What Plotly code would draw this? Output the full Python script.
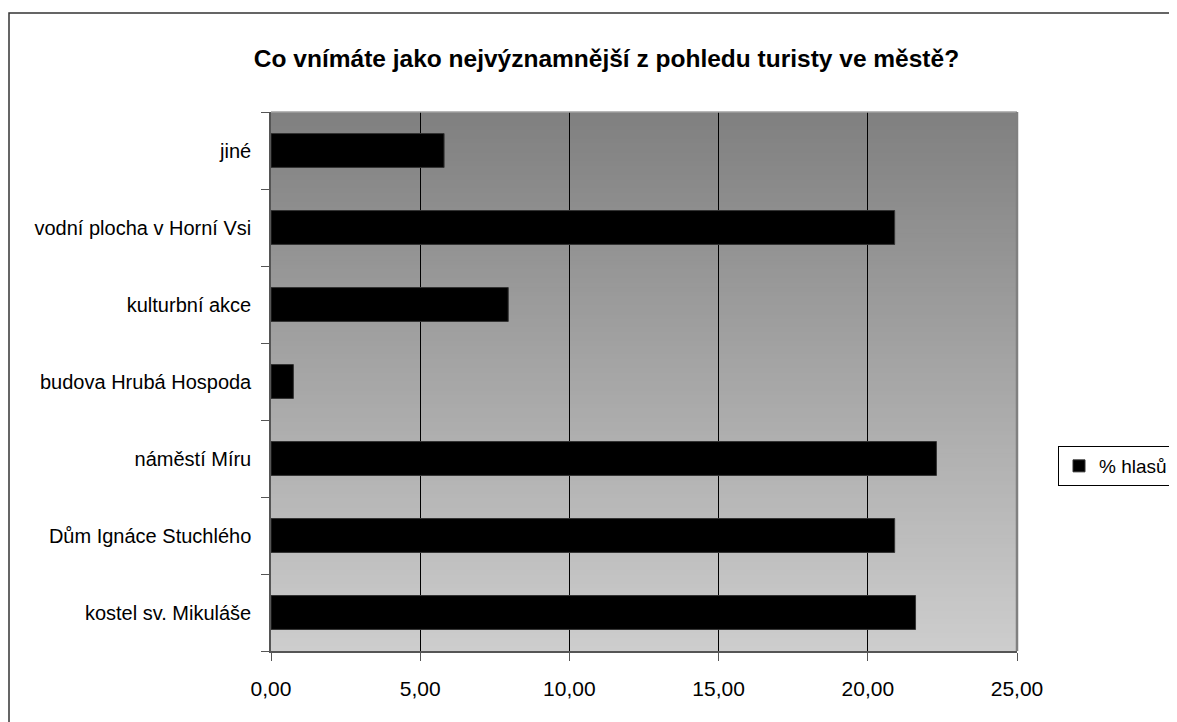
import plotly.graph_objects as go

categories = ["kostel sv. Mikuláše", "Dům Ignáce Stuchlého", "náměstí Míru",
              "budova Hrubá Hospoda", "kulturbní akce", "vodní plocha v Horní Vsi", "jiné"]
values = [21.6, 20.9, 22.3, 0.75, 7.95, 20.9, 5.8]
series_name = "% hlasů"
x_ticks = [0, 5, 10, 15, 20, 25]
x_ticklabels = ["0,00", "5,00", "10,00", "15,00", "20,00", "25,00"]
title_text = "Co vnímáte jako nejvýznamnější z pohledu turisty ve městě?"

FONT = "Liberation Sans, Arial, sans-serif"

W, H = 1169, 714
L, R, T, B = 263, 160, 104, 71
PW = W - L - R
PH = H - T - B

fig = go.Figure()
fig.add_trace(go.Bar(
    y=categories, x=values, orientation="h", name=series_name,
    marker=dict(color="black", line=dict(color="#333333", width=1)),
    width=0.44, showlegend=True,
))

# gradient background for plot area (overlapping bands to avoid seams)
shapes = []
n = 120
top = (128, 128, 128)
bot = (205, 205, 205)
for i in range(n):
    t = i / (n - 1)
    c = tuple(round(top[k] + (bot[k] - top[k]) * t) for k in range(3))
    shapes.append(dict(type="rect", xref="x domain", yref="y domain",
                       x0=0, x1=1, y0=0, y1=1 - i / n,
                       fillcolor="rgb(%d,%d,%d)" % c, line=dict(width=0), layer="below"))
# plot area border (top/right)
shapes.append(dict(type="line", xref="x domain", yref="y domain", x0=0, x1=1, y0=1, y1=1,
                   line=dict(color="#a0a0a0", width=1.5), layer="above"))
shapes.append(dict(type="line", xref="x domain", yref="y domain", x0=1, x1=1, y0=0, y1=1,
                   line=dict(color="#808080", width=2.5), layer="above"))
# chart outer border
bx0 = (1 - L) / PW
bx1 = (W - 1 - L) / PW
by1 = (H - B - 5) / PH
shapes.append(dict(type="rect", xref="paper", yref="paper", x0=bx0, x1=bx1, y0=-0.3, y1=by1,
                   line=dict(color="#333333", width=1.5), fillcolor="rgba(0,0,0,0)"))

fig.update_layout(
    width=W, height=H,
    margin=dict(l=L, r=R, t=T, b=B, autoexpand=False),
    paper_bgcolor="white",
    plot_bgcolor="rgba(0,0,0,0)",
    font=dict(family=FONT, size=20, color="black"),
    title=dict(text="<b>" + title_text + "</b>", x=598.5 / W, xanchor="center", xref="container",
               y=1 - 50 / H, yref="container", yanchor="middle",
               font=dict(family=FONT, size=24.5, color="black")),
    xaxis=dict(range=[0, 25], tickvals=x_ticks, ticktext=x_ticklabels,
               showgrid=True, gridcolor="black", gridwidth=1,
               showline=True, linecolor="#555555", linewidth=1.5,
               ticks="outside", ticklen=8, tickcolor="#555555", zeroline=False,
               ticklabelstandoff=10,
               tickfont=dict(family=FONT, size=21)),
    yaxis=dict(type="category", categoryorder="array", categoryarray=categories,
               showgrid=False, showline=True, linecolor="#555555", linewidth=1.5,
               ticks="outside", ticklen=8, tickcolor="#555555", tickson="boundaries",
               ticklabelstandoff=14,
               tickfont=dict(family=FONT, size=20)),
    legend=dict(x=(1050 - L) / PW, y=(H - B - 458) / PH, xanchor="left", yanchor="middle",
                bgcolor="white", bordercolor="black", borderwidth=1,
                itemwidth=30, font=dict(family=FONT, size=19)),
    shapes=shapes,
    bargap=0.56,
)

fig.write_html("out.html")
